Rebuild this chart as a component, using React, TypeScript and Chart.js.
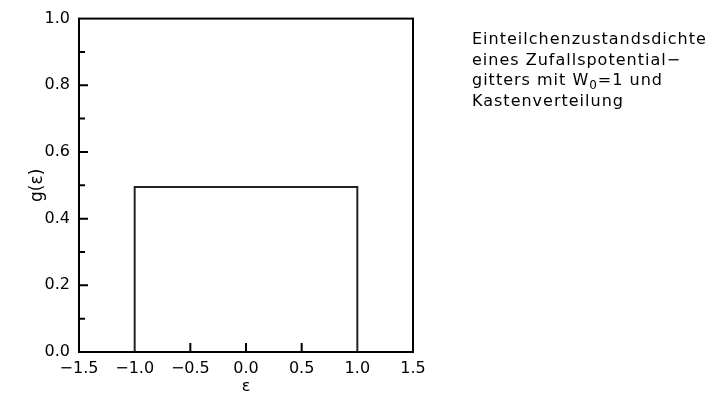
import React, { useEffect, useRef } from "react";
import { Chart, registerables } from "chart.js";

Chart.register(...registerables);

// Energy axis ε and the single-particle density of states g(ε) of a box distribution
const boxEps = [-1.0, -1.0, 1.0, 1.0];
const boxG = [0.0, 0.495, 0.495, 0.0];

// Axis ticks
const xMajorTicks = [-0.5, 0.0, 0.5];
const yMajorTicks = [0.2, 0.4, 0.6, 0.8];
const yMinorTicks = [0.1, 0.3, 0.5, 0.7, 0.9];

const noteLines = [
  "Einteilchenzustandsdichte",
  "eines Zufallspotential\u2212",
  ["gitters mit W", "0", "=1 und"],
  "Kastenverteilung",
];

const FONT = '"DejaVu Sans", sans-serif';

const fmt = (v: number) => {
  const s = Math.abs(v).toFixed(1);
  return v < -1e-9 ? "\u2212" + s : s;
};

// Frame around the plot plus inward-pointing tick marks
const framePlugin = {
  id: "frame",
  afterDraw(chart: any) {
    const { ctx, chartArea: a, scales } = chart;
    ctx.save();
    ctx.strokeStyle = "#000";
    ctx.lineWidth = 2;
    ctx.strokeRect(a.left, a.top, a.right - a.left, a.bottom - a.top);
    ctx.beginPath();
    for (const v of xMajorTicks) {
      const x = scales.x.getPixelForValue(v);
      ctx.moveTo(x, a.bottom);
      ctx.lineTo(x, a.bottom - 9);
    }
    for (const v of yMajorTicks) {
      const y = scales.y.getPixelForValue(v);
      ctx.moveTo(a.left, y);
      ctx.lineTo(a.left + 9, y);
    }
    for (const v of yMinorTicks) {
      const y = scales.y.getPixelForValue(v);
      ctx.moveTo(a.left, y);
      ctx.lineTo(a.left + 6, y);
    }
    ctx.stroke();
    ctx.restore();
  },
};

// Caption to the right of the plot
const notePlugin = {
  id: "note",
  afterDraw(chart: any) {
    const { ctx } = chart;
    ctx.save();
    ctx.fillStyle = "#000";
    ctx.textBaseline = "alphabetic";
    ctx.textAlign = "left";
    (ctx as any).letterSpacing = "1px";
    const x0 = 472;
    const top = 44;
    const pitch = 20.5;
    noteLines.forEach((line, i) => {
      const y = top + i * pitch;
      ctx.font = "16px " + FONT;
      if (typeof line === "string") {
        ctx.fillText(line, x0, y);
      } else {
        let x = x0;
        ctx.fillText(line[0], x, y);
        x += ctx.measureText(line[0]).width;
        ctx.font = "12px " + FONT;
        ctx.fillText(line[1], x, y + 4);
        x += ctx.measureText(line[1]).width;
        ctx.font = "16px " + FONT;
        ctx.fillText(line[2], x, y);
      }
    });
    ctx.restore();
  },
};

export default function App() {
  const ref = useRef<HTMLCanvasElement>(null);

  useEffect(() => {
    if (!ref.current) return;
    const chart = new Chart(ref.current, {
      type: "line",
      data: {
        datasets: [
          {
            data: boxEps.map((e, i) => ({ x: e, y: boxG[i] })),
            borderColor: "#222",
            borderWidth: 2,
            pointRadius: 0,
            fill: false,
            tension: 0,
          },
        ],
      },
      options: {
        responsive: false,
        animation: false,
        events: [],
        layout: { padding: { left: 0, top: 18, right: 299, bottom: 0 } },
        plugins: {
          legend: { display: false },
          tooltip: { enabled: false },
        },
        scales: {
          x: {
            type: "linear",
            min: -1.5,
            max: 1.5,
            afterFit: (s: any) => {
              s.height = 42;
            },
            grid: { display: false, drawTicks: false },
            border: { display: false },
            ticks: {
              stepSize: 0.5,
              padding: 7,
              color: "#000",
              font: { family: FONT, size: 16 },
              maxRotation: 0,
              autoSkip: false,
              callback: (v: any) => fmt(Number(v)),
            },
            title: {
              display: true,
              text: "\u03b5",
              color: "#000",
              font: { family: FONT, size: 16 },
              padding: { top: 2, bottom: -2 },
            },
          },
          y: {
            min: 0,
            max: 1,
            afterFit: (s: any) => {
              s.width = 79;
            },
            grid: { display: false, drawTicks: false },
            border: { display: false },
            ticks: {
              stepSize: 0.2,
              padding: 9,
              color: "#000",
              font: { family: FONT, size: 16 },
              autoSkip: false,
              callback: (v: any) => fmt(Number(v)),
            },
            title: {
              display: true,
              text: "g(\u03b5)",
              color: "#000",
              font: { family: FONT, size: 17 },
              padding: { top: 27, bottom: 0 },
            },
          },
        },
      },
      plugins: [framePlugin, notePlugin],
    });
    return () => chart.destroy();
  }, []);

  return (
    <div style={{ position: "fixed", left: 0, top: 0, width: 712, height: 394, background: "#fff" }}>
      <canvas ref={ref} width={712} height={394} />
    </div>
  );
}
